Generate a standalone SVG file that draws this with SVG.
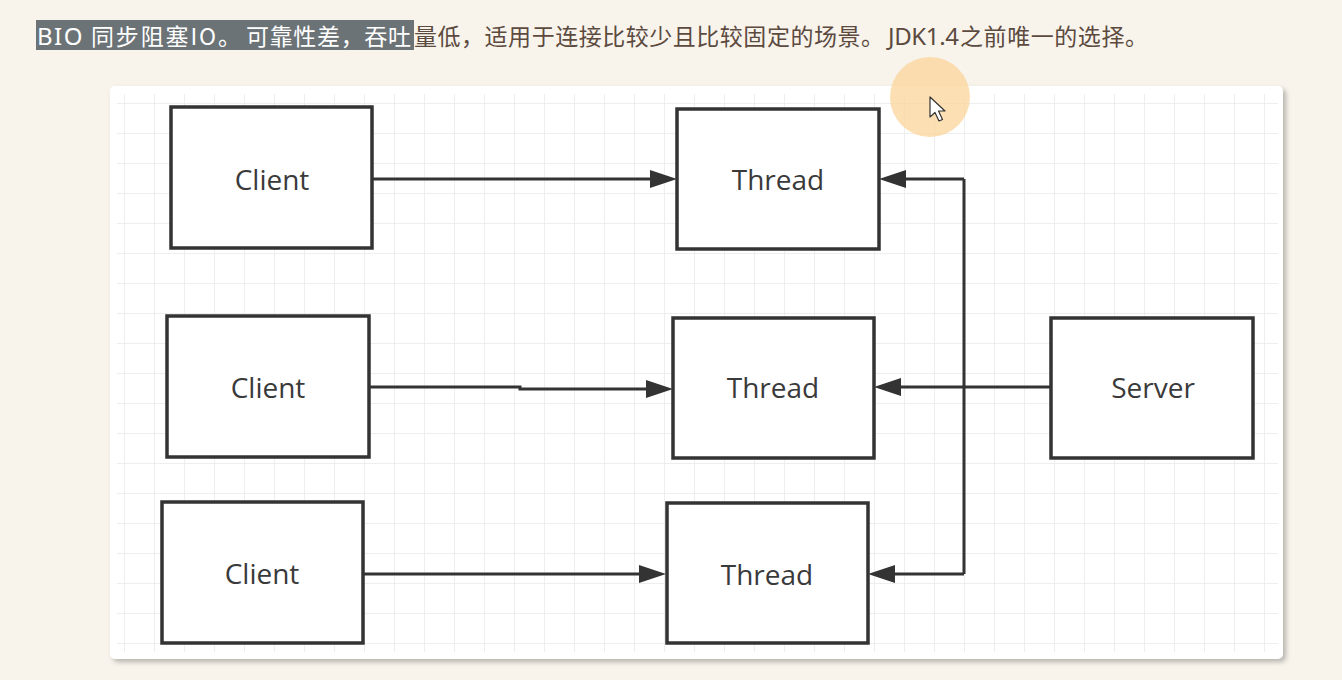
<svg xmlns="http://www.w3.org/2000/svg" width="1342" height="680" viewBox="0 0 1342 680">
  <defs>
    <filter id="shadow" x="-5%" y="-5%" width="110%" height="112%">
      <feDropShadow dx="3" dy="3" stdDeviation="2.5" flood-color="#8a8a85" flood-opacity="0.6"/>
    </filter>
    <pattern id="grid" x="124" y="103" width="30" height="30" patternUnits="userSpaceOnUse">
      <path d="M0,0 V30 M0,0 H30" fill="none" stroke="#e9e9e9" stroke-width="1.5"/>
    </pattern>
    <marker id="arrow" markerUnits="userSpaceOnUse" markerWidth="28" markerHeight="20" viewBox="0 0 28 20" refX="5" refY="9" orient="auto">
      <path d="M0,0 L27,9 L0,18 Z" fill="#333333"/>
    </marker>
    <style>
      .box { fill: #ffffff; stroke: #333333; stroke-width: 3.5; }
      .label { font-family: "Open Sans", "Noto Sans", "DejaVu Sans", sans-serif; font-size: 28px; fill: #3a3a3a; text-anchor: middle; }
      .conn { fill: none; stroke: #333333; stroke-width: 3; }
      .hd { font-family: "Noto Sans CJK SC", "Noto Sans", sans-serif; font-size: 23px; }
      .lat { font-family: "Noto Sans", "Open Sans", sans-serif; font-size: 24px; }
      .hl { fill: #ffffff; }
      .br { fill: #5c4a3f; }
    </style>
  </defs>

  <rect width="1342" height="680" fill="#f8f4ec"/>

  <g id="header">
    <rect x="36" y="20" width="378" height="30" fill="#6c7377"/>
    <text class="lat hl" x="37" y="45" letter-spacing="1.5">BIO</text>
    <text class="hd hl" x="91" y="45" textLength="150">同步阻塞IO。</text>
    <text class="hd hl" x="246" y="45" textLength="165">可靠性差，吞吐</text>
    <text class="hd br" x="414" y="45" textLength="470">量低，适用于连接比较少且比较固定的场景。</text>
    <text class="lat br" x="888" y="45" textLength="71">JDK1.4</text>
    <text class="hd br" x="960" y="45" textLength="188">之前唯一的选择。</text>
  </g>

  <g id="panel">
    <rect x="110" y="86" width="1173" height="573" rx="5" fill="#ffffff" filter="url(#shadow)"/>
    <rect x="117" y="94" width="1161" height="558" fill="url(#grid)"/>
  </g>

  <g id="connectors">
    <path class="conn" d="M372,179 H655" marker-end="url(#arrow)"/>
    <path class="conn" d="M369,387 H520 V389 H651" marker-end="url(#arrow)"/>
    <path class="conn" d="M363,574 H644" marker-end="url(#arrow)"/>
    <path class="conn" d="M1051,387 H896" marker-end="url(#arrow)"/>
    <path class="conn" d="M964,179 V574"/>
    <path class="conn" d="M964,179 H901" marker-end="url(#arrow)"/>
    <path class="conn" d="M964,574 H890" marker-end="url(#arrow)"/>
  </g>

  <g id="client1">
    <rect class="box" x="171" y="107" width="201" height="141"/>
    <text class="label" x="272" y="190">Client</text>
  </g>
  <g id="thread1">
    <rect class="box" x="677" y="109" width="202" height="140"/>
    <text class="label" x="778" y="190">Thread</text>
  </g>
  <g id="client2">
    <rect class="box" x="167" y="316" width="202" height="141"/>
    <text class="label" x="268" y="398">Client</text>
  </g>
  <g id="thread2">
    <rect class="box" x="673" y="318" width="201" height="140"/>
    <text class="label" x="773" y="398">Thread</text>
  </g>
  <g id="server">
    <rect class="box" x="1051" y="318" width="202" height="140"/>
    <text class="label" x="1153" y="398">Server</text>
  </g>
  <g id="client3">
    <rect class="box" x="162" y="502" width="201" height="141"/>
    <text class="label" x="262" y="584">Client</text>
  </g>
  <g id="thread3">
    <rect class="box" x="667" y="503" width="201" height="140"/>
    <text class="label" x="767" y="585">Thread</text>
  </g>

  <g id="cursor">
    <circle cx="930" cy="97" r="40" fill="#fbd49a" fill-opacity="0.75"/>
    <path d="M930,97 L930,117 L935,112.5 L939,121 L942.5,119.5 L938.5,111 L945,111 Z" fill="#ffffff" stroke="#333333" stroke-width="1.2" stroke-linejoin="round"/>
  </g>
</svg>
